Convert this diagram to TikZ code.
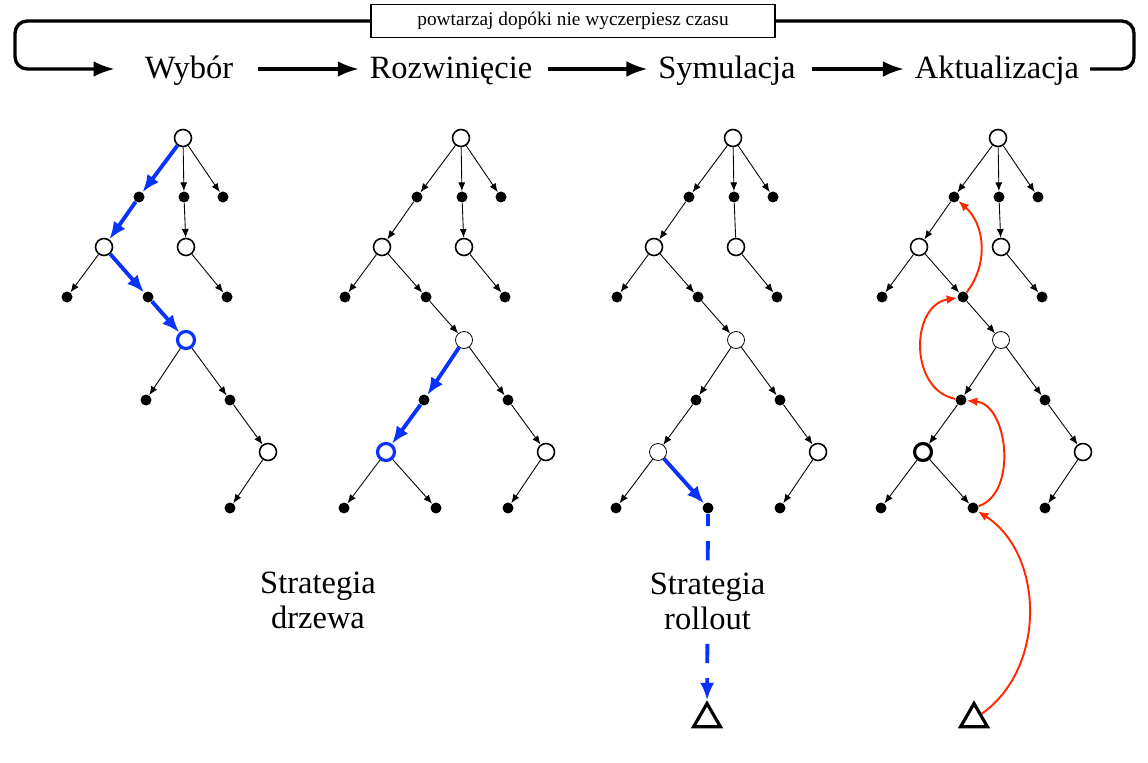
\documentclass[tikz,border=0pt]{standalone}
\usepackage{fontspec}
\setmainfont{Liberation Serif}
\usetikzlibrary{positioning,calc,arrows.meta,shapes,shapes.geometric}
\definecolor{selblue}{RGB}{10,50,255}
\definecolor{updred}{RGB}{255,40,0}
\tikzset{state/.style={circle, draw, line width=0.9pt, fill=white, inner sep=0, minimum size=0.34cm}}
\tikzset{tstate/.style={state, line width=0.45pt}}
\tikzset{kstate/.style={state, line width=1.8pt}}
\tikzset{bstate/.style={state, draw=selblue, line width=1.8pt}}
\tikzset{dot/.style={circle, fill=black, inner sep=0, minimum size=0.22cm}}
\tikzset{leaf/.style={regular polygon, regular polygon sides=3, draw, line width=1.8pt, inner sep=0, minimum size=0.62cm}}
\tikzset{edg/.style={draw, ->, >={Latex[length=5pt,width=4pt]}, line width=0.5pt}}
\tikzset{bare/.style={draw, line width=0.5pt}}
\tikzset{sel/.style={draw=selblue, ->, >={Latex[length=10pt,width=8pt]}, line width=2.2pt}}
\tikzset{upd/.style={draw=updred, ->, >={Latex[length=6pt,width=5pt]}, line width=1.1pt}}
\tikzset{flow/.style={draw, ->, >={Latex[length=12pt,width=9pt]}, line width=1.9pt, shorten <=3pt}}
\tikzset{phase/.style={font=\fontsize{18.5}{20}\selectfont, text height=15pt, text depth=4pt, inner xsep=6pt}}
\tikzset{note/.style={font=\fontsize{18.5}{20}\selectfont, align=center, inner sep=2pt}}

\begin{document}
\begin{tikzpicture}[x=0.02cm, y=-0.02cm]
	\useasboundingbox (0,0) rectangle (1148,763);
	% phases
	\node[draw, line width=0.85pt, minimum width=8.08cm, minimum height=0.66cm, inner sep=0, font=\fontsize{11}{12}\selectfont] (box) at (573,21) {powtarzaj dopóki nie wyczerpiesz czasu};
	\node[phase] (wyb) at (189,69) {Wybór};
	\node[phase] (roz) at (451,69) {Rozwinięcie};
	\node[phase] (sym) at (727,69) {Symulacja};
	\node[phase] (akt) at (997,69) {Aktualizacja};
	\draw[flow, shorten <=8pt] (wyb) -- (roz);
	\draw[flow] (roz) -- (sym);
	\draw[flow] (sym) -- (akt);
	\coordinate (cl) at (15,21);
	\coordinate (cr) at (1134,21);
	\draw[flow, shorten <=0pt, shorten >=11pt, rounded corners=7pt] (box.west) -- (cl) |- (wyb);
	\draw[flow, -, shorten <=0pt, rounded corners=7pt] (box.east) -- (cr) |- (akt);
	%
	% trees
	\foreach \t/\x/\p/\q/\m/\ds in {1/183/sel/edg/edg/bstate, 2/461/edg/sel/edg/tstate, 3/733/edg/edg/bare/tstate, 4/998/edg/edg/edg/tstate} {
		\begin{scope}[shift={(\x,0)}]
			\node[state] (r-\t) at (0,138) {};
			\node[dot] (a1-\t) at (-44,197) {};
			\node[dot] (a2-\t) at (1,197) {};
			\node[dot] (a3-\t) at (40,197) {};
			\node[state] (b1-\t) at (-79,247) {};
			\node[state] (b2-\t) at (3,247) {};
			\node[dot] (c1-\t) at (-116,297) {};
			\node[dot] (c2-\t) at (-35,297) {};
			\node[dot] (c3-\t) at (44,297) {};
			\node[\ds] (d-\t) at (3,340) {};
			\node[dot] (e1-\t) at (-37,400) {};
			\node[dot] (e2-\t) at (47,400) {};
			\node[state] (f2-\t) at (85,452) {};
			\node[dot] (g3-\t) at (47,508) {};
		\end{scope}
		\draw[edg] (r-\t) -- (a2-\t);
		\draw[edg] (r-\t) -- (a3-\t);
		\draw[\m] (a2-\t) -- (b2-\t);
		\draw[edg] (b1-\t) -- (c1-\t);
		\draw[edg] (b2-\t) -- (c3-\t);
		\draw[edg] (d-\t) -- (e2-\t);
		\draw[edg] (e2-\t) -- (f2-\t);
		\draw[edg] (f2-\t) -- (g3-\t);
		\draw[\p] (r-\t) -- (a1-\t);
		\draw[\p] (a1-\t) -- (b1-\t);
		\draw[\p] (b1-\t) -- (c2-\t);
		\draw[\p] (c2-\t) -- (d-\t);
		\draw[\q] (d-\t) -- (e1-\t);
	}
	% expanded node
	\foreach \t/\x/\fs/\q/\s in {2/461/bstate/sel/edg, 3/733/tstate/edg/sel, 4/998/kstate/edg/edg} {
		\begin{scope}[shift={(\x,0)}]
			\node[\fs] (f1-\t) at (-75,452) {};
			\node[dot] (g1-\t) at (-117,508) {};
			\node[dot] (g2-\t) at (-25,508) {};
		\end{scope}
		\draw[edg] (f1-\t) -- (g1-\t);
		\draw[\q] (e1-\t) -- (f1-\t);
		\draw[\s] (f1-\t) -- (g2-\t);
	}
	%
	\node[note] (drz) at (318,600) {Strategia\\drzewa};
	\node[leaf] (t3) at (707,719) {};
	\node[leaf] (t4) at (974,719) {};
	\draw[sel, dash pattern=on 11pt off 8.5pt, dash phase=4pt] (g2-3) -- node[note, fill=white, pos=0.47] (rol) {Strategia\\rollout} (t3);
	% backup
	\draw[upd] (t4) to[bend right=56] (g2-4);
	\draw[upd] (g2-4) to[bend right=78] (e1-4);
	\draw[upd] (e1-4) to[bend left=80, looseness=1.2] (c2-4);
	\draw[upd] (c2-4) to[bend right=43] (a1-4);
\end{tikzpicture}
\end{document}
